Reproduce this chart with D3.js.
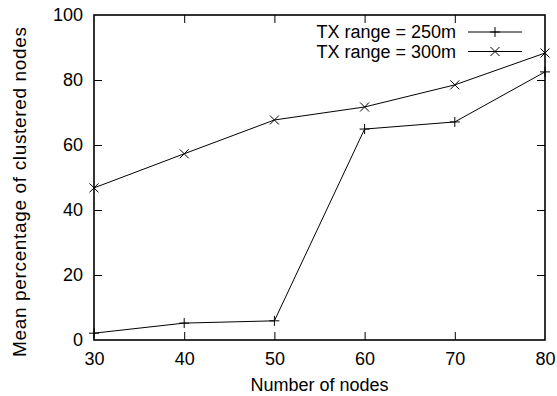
<!DOCTYPE html>
<html>
<head>
<meta charset="utf-8">
<script src="https://cdn.jsdelivr.net/npm/d3@7"></script>
<style>
  body { margin: 0; background: #fff; }
  text { font-family: "Liberation Sans", Arial, sans-serif; fill: #000; }
</style>
</head>
<body>
<div id="chart"></div>
<script>
const nodes = [30, 40, 50, 60, 70, 80];
const tx250 = [2.1, 5.2, 5.9, 64.9, 67.1, 82.5];
const tx300 = [46.8, 57.3, 67.7, 71.7, 78.5, 88.3];
const xTicks = [30, 40, 50, 60, 70, 80];
const yTicks = [0, 20, 40, 60, 80, 100];
const seriesNames = ["TX range = 250m", "TX range = 300m"];

const width = 557, height = 396;
const margin = {top: 15, right: 12, bottom: 56, left: 94};
const fontSize = "18px";

const svg = d3.select("#chart").append("svg")
    .attr("width", width)
    .attr("height", height);

const x = d3.scaleLinear().domain([30, 80]).range([margin.left, width - margin.right]);
const y = d3.scaleLinear().domain([0, 100]).range([height - margin.bottom, margin.top]);

const tickLen = 8;

// ticks on all four sides, gnuplot style (pointing inward)
const xAxisB = svg.append("g")
    .attr("transform", `translate(0,${y(0)})`)
    .call(d3.axisBottom(x).tickValues(xTicks).tickSizeInner(-tickLen).tickSizeOuter(0).tickPadding(12));
const xAxisT = svg.append("g")
    .attr("transform", `translate(0,${y(100)})`)
    .call(d3.axisTop(x).tickValues(xTicks).tickSizeInner(-tickLen).tickSizeOuter(0).tickFormat(""));
const yAxisL = svg.append("g")
    .attr("transform", `translate(${x(30)},0)`)
    .call(d3.axisLeft(y).tickValues(yTicks).tickSizeInner(-tickLen).tickSizeOuter(0).tickPadding(11));
const yAxisR = svg.append("g")
    .attr("transform", `translate(${x(80)},0)`)
    .call(d3.axisRight(y).tickValues(yTicks).tickSizeInner(-tickLen).tickSizeOuter(0).tickFormat(""));

[xAxisB, xAxisT, yAxisL, yAxisR].forEach(g => {
    g.select(".domain").remove();
    g.selectAll("line").attr("stroke", "#000").attr("stroke-width", 1);
    g.selectAll("text").attr("font-size", fontSize).attr("font-family", "Liberation Sans, Arial, sans-serif");
});
// ticks that would sit on the frame corners are not drawn
xAxisB.selectAll(".tick").filter(d => d === 30 || d === 80).select("line").remove();
xAxisT.selectAll(".tick").filter(d => d === 30 || d === 80).select("line").remove();
yAxisL.selectAll(".tick").filter(d => d === 0 || d === 100).select("line").remove();
yAxisR.selectAll(".tick").filter(d => d === 0 || d === 100).select("line").remove();

// frame
svg.append("rect")
    .attr("x", x(30))
    .attr("y", y(100))
    .attr("width", x(80) - x(30))
    .attr("height", y(0) - y(100))
    .attr("fill", "none")
    .attr("stroke", "#000")
    .attr("stroke-width", 1.6);

const line = d3.line()
    .x((d, i) => x(nodes[i]))
    .y(d => y(d));

const ms = 5;
function plusMark(g, cx, cy) {
    g.append("path")
        .attr("d", `M${cx - ms},${cy}H${cx + ms}M${cx},${cy - ms}V${cy + ms}`)
        .attr("stroke", "#000").attr("stroke-width", 1).attr("fill", "none");
}
function crossMark(g, cx, cy) {
    const s = ms * 0.9;
    g.append("path")
        .attr("d", `M${cx - s},${cy - s}L${cx + s},${cy + s}M${cx - s},${cy + s}L${cx + s},${cy - s}`)
        .attr("stroke", "#000").attr("stroke-width", 1).attr("fill", "none");
}

const series = [tx250, tx300];
const marks = [plusMark, crossMark];

series.forEach((vals, k) => {
    svg.append("path")
        .datum(vals)
        .attr("d", line)
        .attr("fill", "none")
        .attr("stroke", "#000")
        .attr("stroke-width", 1);
    const g = svg.append("g");
    vals.forEach((v, i) => marks[k](g, x(nodes[i]), y(v)));
});

// legend
const legend = svg.append("g");
seriesNames.forEach((name, k) => {
    const ly = 32 + k * 19.5;
    legend.append("text")
        .attr("x", 456)
        .attr("y", ly)
        .attr("dy", "0.35em")
        .attr("text-anchor", "end")
        .attr("font-size", fontSize)
        .text(name);
    legend.append("line")
        .attr("x1", 468).attr("x2", 522)
        .attr("y1", ly).attr("y2", ly)
        .attr("stroke", "#000").attr("stroke-width", 1);
    marks[k](legend, 495, ly);
});

// axis titles
svg.append("text")
    .attr("x", (x(30) + x(80)) / 2)
    .attr("y", 391)
    .attr("text-anchor", "middle")
    .attr("font-size", fontSize)
    .text("Number of nodes");

svg.append("text")
    .attr("transform", `translate(26,192) rotate(-90)`)
    .attr("text-anchor", "middle")
    .attr("font-size", "19px")
    .attr("textLength", 330)
    .attr("lengthAdjust", "spacing")
    .text("Mean percentage of clustered nodes");
</script>
</body>
</html>
